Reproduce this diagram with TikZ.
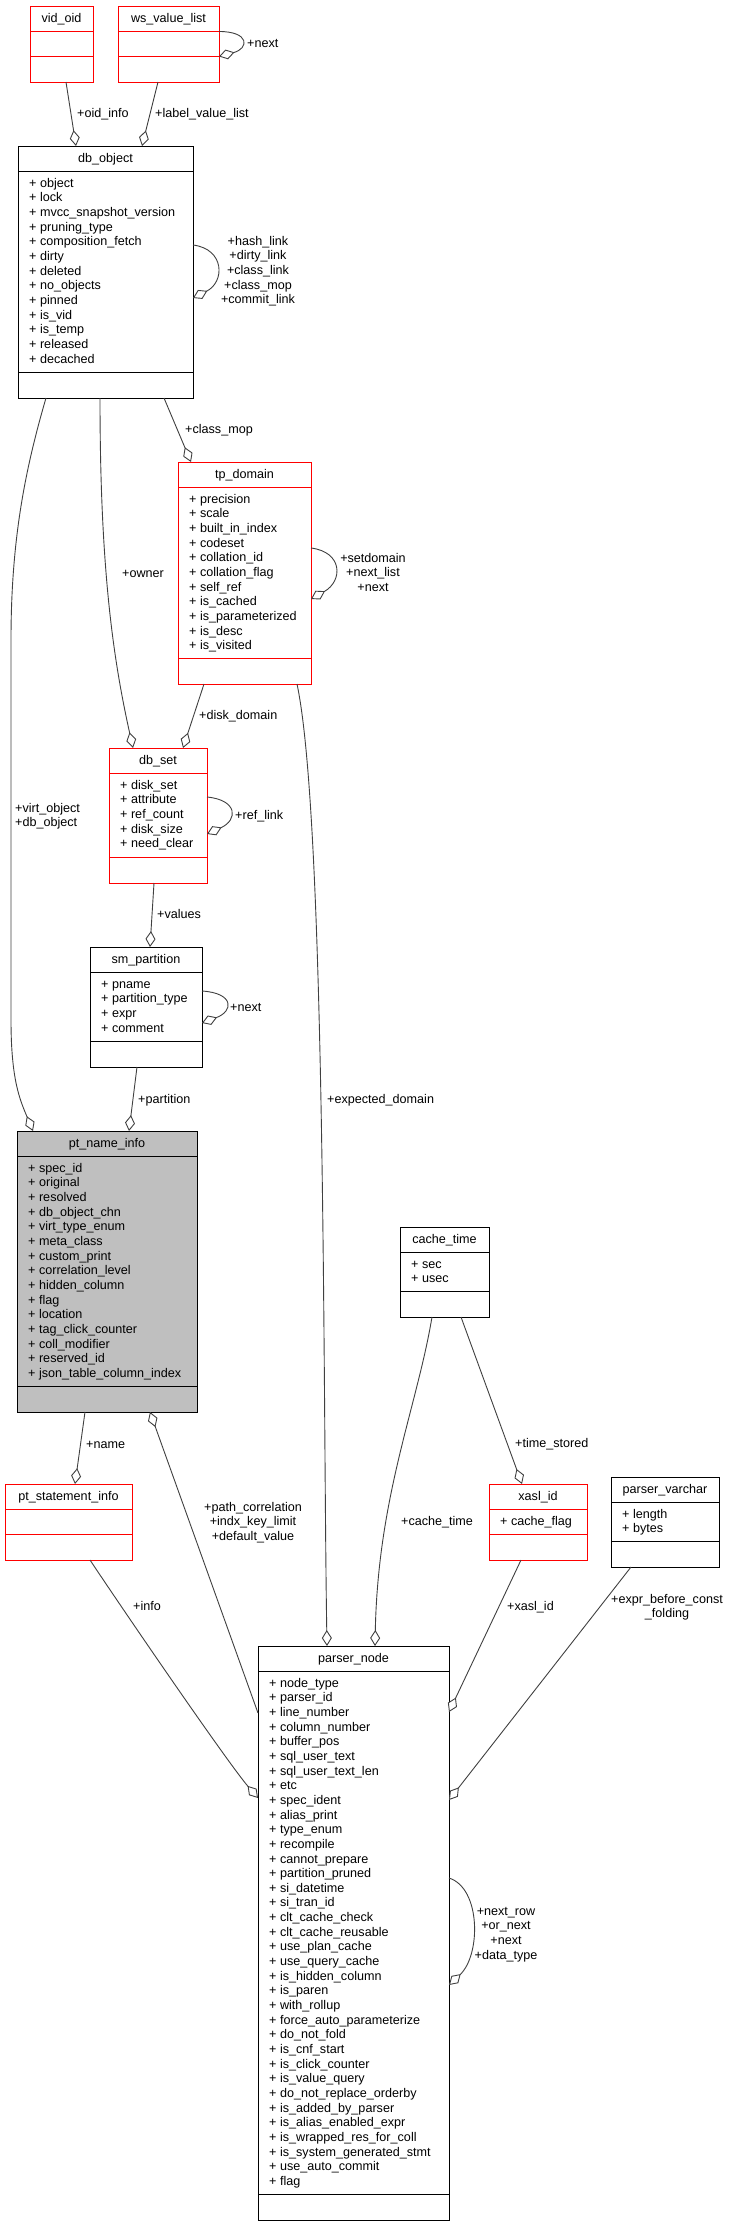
\documentclass[tikz,border=0pt]{standalone}
\usepackage{fontspec}
\setmainfont{Liberation Sans}
\usetikzlibrary{arrows.meta,calc}
\definecolor{edgegray}{HTML}{404040}
\definecolor{nodegray}{HTML}{BFBFBF}
\newcommand{\fst}{\rule{0pt}{10pt}}
\newcommand{\dfont}{\fontsize{12.6}{14.65}\selectfont}
\tikzset{
  redcls/.style={draw=red, line width=1pt},
  blkcls/.style={draw=black, line width=1pt},
  graycls/.style={draw=black, fill=nodegray, line width=1pt},
  ttl/.style={font=\dfont, inner sep=0pt},
  atr/.style={font=\dfont, align=left, inner sep=0pt, anchor=north west},
  lblL/.style={font=\dfont, align=left, inner sep=0pt, anchor=north west},
  lblC/.style={font=\dfont, align=center, inner sep=0pt, anchor=north},
  edge/.style={draw=edgegray, line width=0.9pt, -{Diamond[length=16pt,width=10pt,fill=white]}},
}
\newcommand{\umlclass}[7]{%
  \node[#2, anchor=north west, minimum width={#5-#3}, minimum height={#6-#4}, inner sep=0pt, outer sep=0pt] (#1) at (#3,#4) {};
  \draw[#2, fill=none] ([yshift=-25.5pt]#1.north west) -- ([yshift=-25.5pt]#1.north east);
  \draw[#2, fill=none] ([yshift=25.5pt]#1.south west) -- ([yshift=25.5pt]#1.south east);
  \node[ttl, anchor=base] (#1-t) at ([yshift=-16.5pt]#1.north) {#7};
}
\newcommand{\umlattrs}[2]{%
  \node[atr] (#1-a) at ([xshift=11pt,yshift=-31pt]#1.north west) {\fst #2};
}
\begin{document}
\begin{tikzpicture}[x=1pt,y=-1pt]
\useasboundingbox (0,0) rectangle (731,2227);

% classes
\umlclass{vidoid}{redcls}{30}{6}{93}{82}{vid\_oid}
\umlclass{wsvl}{redcls}{118}{6}{219}{82}{ws\_value\_list}
\umlclass{dbobject}{blkcls}{18}{146}{193}{398}{db\_object}
\umlattrs{dbobject}{+ object\\+ lock\\+ mvcc\_snapshot\_version\\+ pruning\_type\\+ composition\_fetch\\+ dirty\\+ deleted\\+ no\_objects\\+ pinned\\+ is\_vid\\+ is\_temp\\+ released\\+ decached}
\umlclass{tpdomain}{redcls}{178}{462}{311}{684}{tp\_domain}
\umlattrs{tpdomain}{+ precision\\+ scale\\+ built\_in\_index\\+ codeset\\+ collation\_id\\+ collation\_flag\\+ self\_ref\\+ is\_cached\\+ is\_parameterized\\+ is\_desc\\+ is\_visited}
\umlclass{dbset}{redcls}{109}{748}{207}{883}{db\_set}
\umlattrs{dbset}{+ disk\_set\\+ attribute\\+ ref\_count\\+ disk\_size\\+ need\_clear}
\umlclass{smpart}{blkcls}{90}{947}{202}{1067}{sm\_partition}
\umlattrs{smpart}{+ pname\\+ partition\_type\\+ expr\\+ comment}
\umlclass{ptname}{graycls}{17}{1131}{197}{1412}{pt\_name\_info}
\umlattrs{ptname}{+ spec\_id\\+ original\\+ resolved\\+ db\_object\_chn\\+ virt\_type\_enum\\+ meta\_class\\+ custom\_print\\+ correlation\_level\\+ hidden\_column\\+ flag\\+ location\\+ tag\_click\_counter\\+ coll\_modifier\\+ reserved\_id\\+ json\_table\_column\_index}
\umlclass{ptstmt}{redcls}{5}{1484}{132}{1560}{pt\_statement\_info}
\umlclass{cachetime}{blkcls}{400}{1227}{489}{1317}{cache\_time}
\umlattrs{cachetime}{+ sec\\+ usec}
\umlclass{xaslid}{redcls}{489}{1484}{587}{1560}{xasl\_id}
\umlattrs{xaslid}{+ cache\_flag}
\umlclass{parservarchar}{blkcls}{611}{1477}{719}{1567}{parser\_varchar}
\umlattrs{parservarchar}{+ length\\+ bytes}
\umlclass{parsernode}{blkcls}{258}{1646}{449}{2220}{parser\_node}
\umlattrs{parsernode}{+ node\_type\\+ parser\_id\\+ line\_number\\+ column\_number\\+ buffer\_pos\\+ sql\_user\_text\\+ sql\_user\_text\_len\\+ etc\\+ spec\_ident\\+ alias\_print\\+ type\_enum\\+ recompile\\+ cannot\_prepare\\+ partition\_pruned\\+ si\_datetime\\+ si\_tran\_id\\+ clt\_cache\_check\\+ clt\_cache\_reusable\\+ use\_plan\_cache\\+ use\_query\_cache\\+ is\_hidden\_column\\+ is\_paren\\+ with\_rollup\\+ force\_auto\_parameterize\\+ do\_not\_fold\\+ is\_cnf\_start\\+ is\_click\_counter\\+ is\_value\_query\\+ do\_not\_replace\_orderby\\+ is\_added\_by\_parser\\+ is\_alias\_enabled\_expr\\+ is\_wrapped\_res\_for\_coll\\+ is\_system\_generated\_stmt\\+ use\_auto\_commit\\+ flag}

% edges
\draw[edge] ([xshift=36pt]vidoid.south west) -- ([xshift=58pt]dbobject.north west);
\draw[edge] ([xshift=40pt]wsvl.south west) -- ([xshift=124pt]dbobject.north west);
\draw[edge] ([yshift=-25.5pt]wsvl.north east) .. controls +(31,0) and +(30,-8) .. ([yshift=25.5pt]wsvl.south east);
\draw[edge] ([yshift=-99pt]dbobject.north east) .. controls +(32,4) and +(32,-16) .. ([yshift=-152pt]dbobject.north east);
\draw[edge] ([xshift=146pt]dbobject.south west) -- ([xshift=13pt]tpdomain.north west);
\draw[edge] ([yshift=-86pt]tpdomain.north east) .. controls +(32,4) and +(32,-18) .. ([yshift=-137pt]tpdomain.north east);
\draw[edge] ([xshift=82pt]dbobject.south west) .. controls +(0,170) and +(-20,-90) .. ([xshift=24pt]dbset.north west);
\draw[edge] ([xshift=26pt]tpdomain.south west) -- ([xshift=74pt]dbset.north west);
\draw[edge] ([yshift=-49pt]dbset.north east) .. controls +(31,3) and +(31,-14) .. ([yshift=-86pt]dbset.north east);
\draw[edge] ([xshift=45pt]dbset.south west) -- ([xshift=60pt]smpart.north west);
\draw[edge] ([yshift=-44pt]smpart.north east) .. controls +(32,2) and +(32,-12) .. ([yshift=-76pt]smpart.north east);
\draw[edge] ([xshift=47pt]smpart.south west) -- ([xshift=112pt]ptname.north west);
\draw[edge] ([xshift=28pt]dbobject.south west) .. controls +(-21,72) and +(0,-100) .. ++(-35,242) -- ++(0,380) .. controls +(0,60) and +(-13,-31) .. ([xshift=16pt]ptname.north west);
\draw[edge] ([xshift=119pt]tpdomain.south west) .. controls +(29,136) and +(-4,-246) .. ([xshift=69pt]parsernode.north west);
\draw[edge] ([xshift=32pt]cachetime.south west) .. controls +(-15,90) and +(3,-150) .. ([xshift=117pt]parsernode.north west);
\draw[edge] ([xshift=61pt]cachetime.south west) -- ([xshift=33pt]xaslid.north west);
\draw[edge] ([xshift=32pt]xaslid.south west) -- ([yshift=-66pt]parsernode.north east);
\draw[edge] ([xshift=20pt]parservarchar.south west) -- ([yshift=-154pt]parsernode.north east);
\draw[edge] ([yshift=-232pt]parsernode.north east) .. controls +(32,10) and +(32,-30) .. ([yshift=-339pt]parsernode.north east);
\draw[edge] ([xshift=85pt]ptstmt.south west) .. controls +(40,60) and +(-30,-35) .. ([yshift=-152pt]parsernode.north west);
\draw[edge] ([yshift=-67pt]parsernode.north west) -- ([xshift=133pt]ptname.south west);
\draw[edge] ([xshift=68pt]ptname.south west) -- ([xshift=70pt]ptstmt.north west);

% labels
\node[lblL] (l1) at (77,107) {\fst+oid\_info};
\node[lblL] (l2) at (155,107) {\fst+label\_value\_list};
\node[lblL] (l3) at (247,37) {\fst+next};
\node[lblC] (l4) at (258,235) {\fst+hash\_link\\+dirty\_link\\+class\_link\\+class\_mop\\+commit\_link};
\node[lblL] (l5) at (185,423) {\fst+class\_mop};
\node[lblL] (l6) at (122,567) {\fst+owner};
\node[lblC] (l7) at (373,552) {\fst+setdomain\\+next\_list\\+next};
\node[lblL] (l8) at (199,709) {\fst+disk\_domain};
\node[lblL] (l9) at (15,802) {\fst+virt\_object\\+db\_object};
\node[lblL] (l10) at (235,809) {\fst+ref\_link};
\node[lblL] (l11) at (157,908) {\fst+values};
\node[lblL] (l12) at (230,1001) {\fst+next};
\node[lblL] (l13) at (138,1093) {\fst+partition};
\node[lblL] (l14) at (327,1093) {\fst+expected\_domain};
\node[lblL] (l15) at (86,1438) {\fst+name};
\node[lblL] (l16) at (515,1437) {\fst+time\_stored};
\node[lblC] (l17) at (253,1501) {\fst+path\_correlation\\+indx\_key\_limit\\+default\_value};
\node[lblL] (l18) at (401,1515) {\fst+cache\_time};
\node[lblL] (l19) at (133,1600) {\fst+info};
\node[lblL] (l20) at (507,1600) {\fst+xasl\_id};
\node[lblC] (l21) at (667,1593) {\fst+expr\_before\_const\\\_folding};
\node[lblC] (l22) at (506,1905) {\fst+next\_row\\+or\_next\\+next\\+data\_type};
\end{tikzpicture}
\end{document}
